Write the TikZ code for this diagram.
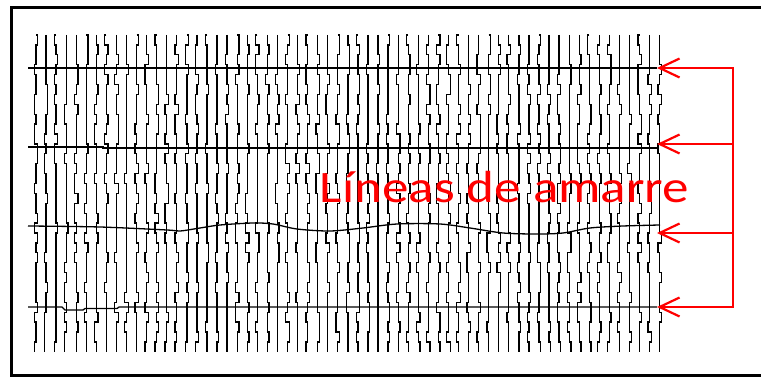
\documentclass[tikz,border=0pt]{standalone}
\usepackage{fontspec}
\setmainfont{Carlito}
\usetikzlibrary{arrows.meta}
\begin{document}
\begin{tikzpicture}[x=1pt,y=-1pt,
	traza/.style={line width=1.3pt},
	amarre/.style={line width=1.3pt},
	flecha/.style={red,line width=2.2pt,-{Straight Barb[length=20pt,width=19pt]}}]
	\useasboundingbox (0,0) rectangle (761,377);
	\draw[line width=3pt] (11.5,7.5) rectangle (775,375.5);
	
	% trazas
	\foreach \i in {0,...,62}{
		\pgfmathsetseed{\i*131+17}
		\pgfmathsetmacro{\xt}{36+\i*10.06}
		\draw[traza] (\xt,35) \foreach \j [evaluate=\j as \dx using {1.7*round(0.8*rand)}, evaluate=\j as \ya using {35+(\j-1)*9.9}, evaluate=\j as \yb using {35+\j*9.9}] in {1,...,32}{ -- ({\xt+\dx},\ya) -- ({\xt+\dx},\yb)};
	}
	
	% lineas de amarre
	\draw[amarre] (28,68) -- (657,68);
	\draw[amarre] (28,147) -- (103,147) -- (103,148) -- (657,148);
	\draw[amarre] plot[smooth,tension=0.5] coordinates {(28,226) (100,227) (167,230) (180,231) (200,228) (220,225) (253,223) (273,224) (297,229) (330,231) (363,228) (397,224) (440,224) (470,228) (503,233) (537,234) (563,233) (590,228) (623,226) (660,225)};
	\draw[amarre] (28,307) -- (62,307) -- (65,310) -- (83,310) -- (85,308.5) -- (117,308.5) -- (119,307) -- (657,307);
	
	\node[red,font=\fontsize{45}{54}\selectfont,anchor=base,inner sep=0pt] (rotulo) at (504.5,203) {\scalebox{1.18}[1]{Líneas de amarre}};
	
	\coordinate (a1) at (733,68);
	\coordinate (a2) at (733,144);
	\coordinate (a3) at (733,233);
	\coordinate (a4) at (733,307);
	\coordinate (l1) at (657,68);
	\coordinate (l2) at (657,144);
	\coordinate (l3) at (657,233);
	\coordinate (l4) at (657,307);
	
	\draw[red,line width=2.2pt,line cap=rect] (a1) -- (a4);
	\foreach \k in {1,...,4}
		\draw[flecha] (a\k) -- (l\k);
\end{tikzpicture}
\end{document}
